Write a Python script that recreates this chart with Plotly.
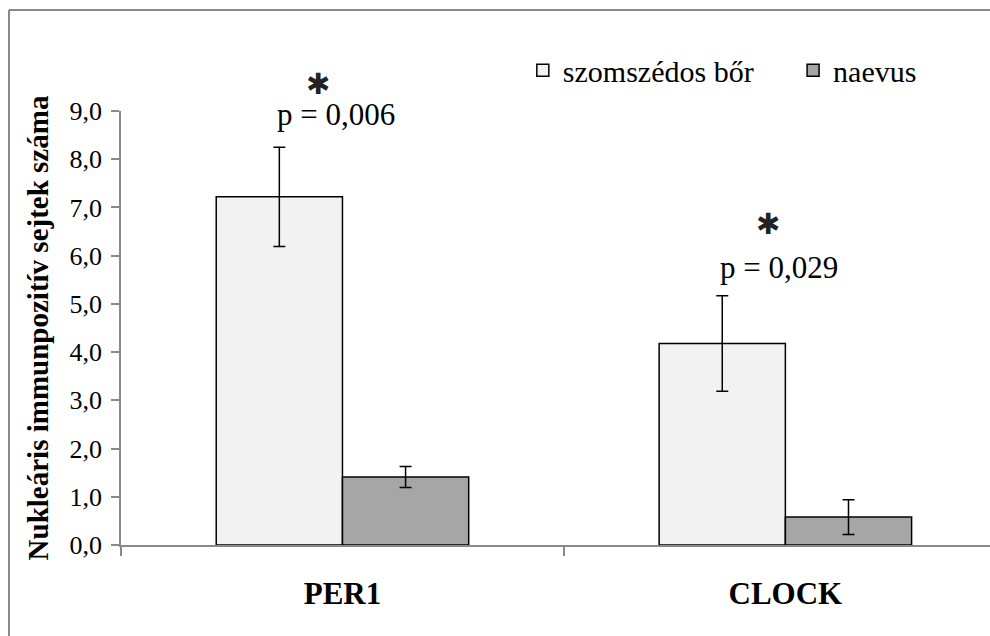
import plotly.graph_objects as go

# Data
genes = ["PER1", "CLOCK"]
series_names = ["szomszédos bőr", "naevus"]
adjacent_skin = [7.22, 4.18]
adjacent_err = [1.03, 0.99]
naevus = [1.41, 0.58]
naevus_err = [0.22, 0.36]
p_labels = ["p = 0,006", "p = 0,029"]
y_ticks = [0, 1, 2, 3, 4, 5, 6, 7, 8, 9]

serif = "Liberation Serif"
axis_grey = "#898989"

fig = go.Figure()
fig.add_trace(go.Bar(
    name=series_names[0], x=genes, y=adjacent_skin, legend="legend",
    marker=dict(color="#f2f2f2", line=dict(color="black", width=1.5)),
    error_y=dict(type="data", array=adjacent_err, color="black", thickness=1.5, width=6),
))
fig.add_trace(go.Bar(
    name=series_names[1], x=genes, y=naevus, legend="legend2",
    marker=dict(color="#a6a6a6", line=dict(color="black", width=1.5)),
    error_y=dict(type="data", array=naevus_err, color="black", thickness=1.5, width=6),
))

# significance markers above the adjacent-skin bars
star_x = [-0.055, 0.960]
star_y = [1.060, 6.64 / 9]   # paper fractions
p_x = [-0.014, 0.985]
p_y = [8.92, 5.75]
for i in range(len(genes)):
    fig.add_annotation(x=star_x[i], y=star_y[i], xref="x", yref="paper", text="✱",
                       showarrow=False, yshift=20,
                       font=dict(family="DejaVu Sans", size=29, color="#222"))
    fig.add_annotation(x=p_x[i], y=p_y[i], xref="x", yref="y", text=p_labels[i],
                       showarrow=False, font=dict(family=serif, size=31, color="black"))

# chart frame (left and top edges)
fig.add_shape(type="line", xref="paper", yref="paper", x0=-0.1289, x1=-0.1289, y0=1.2327, y1=-0.3,
              line=dict(color=axis_grey, width=2))
fig.add_shape(type="line", xref="paper", yref="paper", x0=-0.1289, x1=1.1, y0=1.2327, y1=1.2327,
              line=dict(color=axis_grey, width=2))

legend_font = dict(family=serif, size=30, color="black")
fig.update_layout(
    width=990, height=636,
    margin=dict(l=121, r=0, t=111, b=91, autoexpand=False),
    paper_bgcolor="white", plot_bgcolor="white",
    barmode="group", bargap=0.43, bargroupgap=0,
    separators=", ",
    font=dict(family=serif, color="black"),
    showlegend=True,
    legend=dict(x=0.4624, y=1.094, xanchor="left", yanchor="middle",
                font=legend_font, bgcolor="rgba(0,0,0,0)"),
    legend2=dict(x=0.7734, y=1.094, xanchor="left", yanchor="middle",
                 font=legend_font, bgcolor="rgba(0,0,0,0)"),
    xaxis=dict(
        type="category", range=[-0.5, 1.462],
        tickmode="array", tickvals=genes, ticktext=["<b>" + g + "</b>" for g in genes],
        tickson="boundaries", ticks="outside", ticklen=9, tickcolor=axis_grey, tickwidth=1.5,
        showline=True, linecolor=axis_grey, linewidth=1.5,
        showgrid=False, zeroline=False,
        tickfont=dict(family=serif, size=31, color="black"),
        ticklabelstandoff=20,
    ),
    yaxis=dict(
        range=[0, 9], tickmode="array", tickvals=y_ticks, tickformat=".1f",
        ticks="outside", ticklen=8, tickcolor=axis_grey, tickwidth=1.5,
        showline=True, linecolor=axis_grey, linewidth=1.5,
        showgrid=False, zeroline=False,
        tickfont=dict(family=serif, size=26, color="black"),
        ticklabelstandoff=4,
        title=dict(text="<b>Nukleáris immunpozitív sejtek száma</b>",
                   font=dict(family=serif, size=29, color="black"), standoff=12),
    ),
)

fig.write_html("out.html")
